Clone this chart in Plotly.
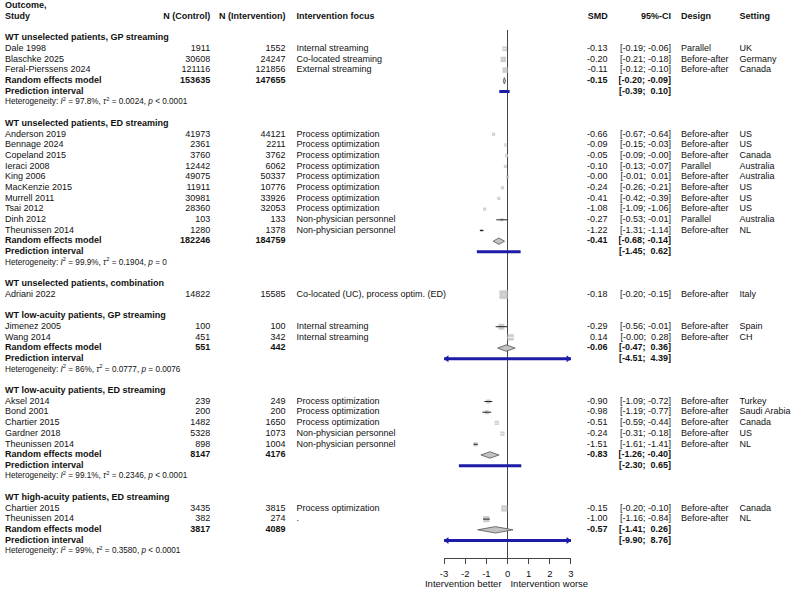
import plotly.graph_objects as go
import numpy as np

# ---------------- data ----------------
group_titles = [
    "WT unselected patients, GP streaming",
    "WT unselected patients, ED streaming",
    "WT unselected patients, combination",
    "WT low-acuity patients, GP streaming",
    "WT low-acuity patients, ED streaming",
    "WT high-acuity patients, ED streaming",
]
study_group = [0, 0, 0, 1, 1, 1, 1, 1, 1, 1, 1, 1, 1, 2, 3, 3, 4, 4, 4, 4, 4, 5, 5]
study_names = [
    "Dale 1998", "Blaschke 2025", "Feral-Pierssens 2024",
    "Anderson 2019", "Bennage 2024", "Copeland 2015", "Ieraci 2008", "King 2006",
    "MacKenzie 2015", "Murrell 2011", "Tsai 2012", "Dinh 2012", "Theunissen 2014",
    "Adriani 2022",
    "Jimenez 2005", "Wang 2014",
    "Aksel 2014", "Bond 2001", "Chartier 2015", "Gardner 2018", "Theunissen 2014",
    "Chartier 2015", "Theunissen 2014",
]
n_control = [1911, 30608, 121116,
             41973, 2361, 3760, 12442, 49075, 11911, 30981, 28360, 103, 1280,
             14822,
             100, 451,
             239, 200, 1482, 5328, 898,
             3435, 382]
n_interv = [1552, 24247, 121856,
            44121, 2211, 3762, 6062, 50337, 10776, 33926, 32053, 133, 1378,
            15585,
            100, 342,
            249, 200, 1650, 1073, 1004,
            3815, 274]
focus = ["Internal streaming", "Co-located streaming", "External streaming",
         "Process optimization", "Process optimization", "Process optimization",
         "Process optimization", "Process optimization", "Process optimization",
         "Process optimization", "Process optimization", "Non-physician personnel",
         "Non-physician personnel",
         "Co-located (UC), process optim. (ED)",
         "Internal streaming", "Internal streaming",
         "Process optimization", "Process optimization", "Process optimization",
         "Non-physician personnel", "Non-physician personnel",
         "Process optimization", "."]
smd = [-0.13, -0.20, -0.11,
       -0.66, -0.09, -0.05, -0.10, -0.0, -0.24, -0.41, -1.08, -0.27, -1.22,
       -0.18,
       -0.29, 0.14,
       -0.90, -0.98, -0.51, -0.24, -1.51,
       -0.15, -1.00]
ci_lo = [-0.19, -0.21, -0.12,
         -0.67, -0.15, -0.09, -0.13, -0.01, -0.26, -0.42, -1.09, -0.53, -1.31,
         -0.20,
         -0.56, -0.0,
         -1.09, -1.19, -0.59, -0.31, -1.61,
         -0.20, -1.16]
ci_hi = [-0.06, -0.18, -0.10,
         -0.64, -0.03, -0.0, -0.07, 0.01, -0.21, -0.39, -1.06, -0.01, -1.14,
         -0.15,
         -0.01, 0.28,
         -0.72, -0.77, -0.44, -0.18, -1.41,
         -0.10, -0.84]
design = ["Parallel", "Before-after", "Before-after",
          "Before-after", "Before-after", "Before-after", "Parallel", "Before-after",
          "Before-after", "Before-after", "Before-after", "Parallel", "Before-after",
          "Before-after",
          "Before-after", "Before-after",
          "Before-after", "Before-after", "Before-after", "Before-after", "Before-after",
          "Before-after", "Before-after"]
setting = ["UK", "Germany", "Canada",
           "US", "US", "Canada", "Australia", "Australia", "US", "US", "US",
           "Australia", "NL",
           "Italy",
           "Spain", "CH",
           "Turkey", "Saudi Arabia", "Canada", "US", "NL",
           "Canada", "NL"]
# estimated random-effects weights (%) within subgroup
weight = [25.6, 36.8, 37.6,
          10.0, 10.0, 10.0, 10.0, 10.0, 10.0, 10.0, 10.0, 9.9, 10.0,
          100.0,
          45.8, 54.2,
          19.7, 19.6, 20.2, 20.2, 20.2,
          50.2, 49.8]

pooled_smd = [-0.15, -0.41, None, -0.06, -0.83, -0.57]
pooled_lo = [-0.20, -0.68, None, -0.47, -1.26, -1.41]
pooled_hi = [-0.09, -0.14, None, 0.36, -0.40, 0.26]
pi_lo = [-0.39, -1.45, None, -4.51, -2.30, -9.90]
pi_hi = [0.10, 0.62, None, 4.39, 0.65, 8.76]
pooled_nc = [153635, 182246, None, 551, 8147, 3817]
pooled_ni = [147655, 184759, None, 442, 4176, 4089]
het_i2 = ["97.8%", "99.9%", None, "86%", "99.1%", "99%"]
het_tau2 = ["0.0024", "0.1904", None, "0.0777", "0.2346", "0.3580"]
het_p = ["< 0.0001", "= 0", None, "= 0.0076", "< 0.0001", "< 0.0001"]

x_ticks = [-3, -2, -1, 0, 1, 2, 3]
label_left = "Intervention better"
label_right = "Intervention worse"

# ---------------- layout constants ----------------
W, H = 794, 589
Y0, DY = 6.0, 10.69          # pixel centre of row 0, row spacing
AX_PX = 558                  # pixel y of the x-axis line
XL_PX, XR_PX = 444, 572      # pixel x of -3 and 3
PX_PER_UNIT = (XR_PX - XL_PX) / (x_ticks[-1] - x_ticks[0])
FONT = "Liberation Sans, Arial, Helvetica, sans-serif"
FS = 9
NB = "\u00a0"


def row_of_px(p):
    return (p - Y0) / DY


def fmt(v):
    return f"{v:.2f}"


def fmt_ci(lo, hi):
    return (f"[{lo:5.2f}; {hi:5.2f}]").replace(" ", NB).replace(";" + NB, "; ")


# ---------------- assemble rows ----------------
texts = {k: ([], []) for k in ["study", "nc", "ni", "focus", "smd", "ci", "design", "setting", "het"]}


def add(col, row, txt, bold=False):
    texts[col][0].append(row)
    texts[col][1].append(f"<b>{txt}</b>" if bold else txt)


study_rows = [0] * len(study_names)
pooled_rows = [None] * len(group_titles)
r = 3
for g, title in enumerate(group_titles):
    add("study", r, title, True)
    r += 1
    for i, sg in enumerate(study_group):
        if sg != g:
            continue
        study_rows[i] = r
        add("study", r, study_names[i])
        add("nc", r, str(n_control[i]))
        add("ni", r, str(n_interv[i]))
        add("focus", r, focus[i])
        add("smd", r, f"{smd[i]:5.2f}".replace(" ", NB))
        add("ci", r, fmt_ci(ci_lo[i], ci_hi[i]))
        add("design", r, design[i])
        add("setting", r, setting[i])
        r += 1
    if pooled_smd[g] is not None:
        pooled_rows[g] = r
        add("study", r, "Random effects model", True)
        add("nc", r, str(pooled_nc[g]), True)
        add("ni", r, str(pooled_ni[g]), True)
        add("smd", r, fmt(pooled_smd[g]), True)
        add("ci", r, fmt_ci(pooled_lo[g], pooled_hi[g]), True)
        r += 1
        add("study", r, "Prediction interval", True)
        add("ci", r, fmt_ci(pi_lo[g], pi_hi[g]), True)
        r += 1
        p_txt = het_p[g].replace("<", "&lt;")
        add("het", r, f"Heterogeneity: <i>I</i><sup>2</sup> = {het_i2[g]}, "
                      f"<i>τ</i><sup>2</sup> = {het_tau2[g]}, <i>p</i> {p_txt}")
        r += 1
    r += 1

fig = go.Figure()

# ---------------- text columns (x2 = pixel axis) ----------------
col_pos = {
    "study": (1, "middle right", FS),
    "het": (1, "middle right", 8.2),
    "nc": (208, "middle left", FS),
    "ni": (284, "middle left", FS),
    "focus": (295, "middle right", FS),
    "smd": (609, "middle left", FS),
    "ci": (673, "middle left", FS),
    "design": (683, "middle right", FS),
    "setting": (742, "middle right", FS),
}
headers = {"nc": "N (Control)", "ni": "N (Intervention)", "focus": "Intervention focus",
           "smd": "SMD", "ci": "95%-CI", "design": "Design", "setting": "Setting"}
add("study", 0, "Outcome,", True)
add("study", 1, "Study", True)
for k, h in headers.items():
    add(k, 1, h, True)

for k, (xp, tp, fs) in col_pos.items():
    rows, tx = texts[k]
    fig.add_trace(go.Scatter(
        x=[xp] * len(rows), y=rows, text=tx, mode="text", textposition=tp,
        textfont=dict(family=FONT, size=fs, color="#111"),
        xaxis="x2", yaxis="y", hoverinfo="skip", showlegend=False, cliponaxis=False))

# bottom labels
lab_row = row_of_px(585)
fig.add_trace(go.Scatter(
    x=[502, 511], y=[lab_row, lab_row], text=[label_left, label_right],
    mode="text", textposition=["middle left", "middle right"],
    textfont=dict(family=FONT, size=9.5, color="#111"),
    xaxis="x2", yaxis="y", hoverinfo="skip", showlegend=False, cliponaxis=False))

# ---------------- forest marks ----------------
sizes = [0.8 * np.sqrt(w) + 0.6 for w in weight]
fig.add_trace(go.Scatter(
    x=smd, y=study_rows, mode="markers",
    marker=dict(symbol="square", size=sizes, color="#B8B8B8", line=dict(width=0)),
    hoverinfo="skip", showlegend=False))

bx, by, wx, wy = [], [], [], []
for i in range(len(smd)):
    ci_px = (ci_hi[i] - ci_lo[i]) * PX_PER_UNIT
    if ci_px > sizes[i]:
        bx += [ci_lo[i], ci_hi[i], None]
        by += [study_rows[i], study_rows[i], None]
    else:
        wx += [ci_lo[i], ci_hi[i], None]
        wy += [study_rows[i], study_rows[i], None]
fig.add_trace(go.Scatter(x=wx, y=wy, mode="lines", line=dict(color="#f4f4f4", width=1),
                         hoverinfo="skip", showlegend=False))
fig.add_trace(go.Scatter(x=bx, y=by, mode="lines", line=dict(color="#222", width=1),
                         hoverinfo="skip", showlegend=False))

# diamonds
dh = 0.3
dx, dy = [], []
for g in range(len(group_titles)):
    if pooled_smd[g] is None:
        continue
    rr = pooled_rows[g]
    dx += [pooled_lo[g], pooled_smd[g], pooled_hi[g], pooled_smd[g], pooled_lo[g], None]
    dy += [rr, rr - dh, rr, rr + dh, rr, None]
fig.add_trace(go.Scatter(x=dx, y=dy, mode="lines", fill="toself", fillcolor="#C2C2C2",
                         line=dict(color="#555", width=0.8), hoverinfo="skip", showlegend=False))

# prediction intervals
lim_lo, lim_hi = x_ticks[0], x_ticks[-1]
px_, py_ = [], []
al_x, al_y, ar_x, ar_y = [], [], [], []
tri_off = 2.9 / PX_PER_UNIT
for g in range(len(group_titles)):
    if pi_lo[g] is None:
        continue
    rr = pooled_rows[g] + 1
    px_ += [max(pi_lo[g], lim_lo), min(pi_hi[g], lim_hi), None]
    py_ += [rr, rr, None]
    if pi_lo[g] < lim_lo:
        al_x.append(lim_lo + tri_off)
        al_y.append(rr)
    if pi_hi[g] > lim_hi:
        ar_x.append(lim_hi - tri_off)
        ar_y.append(rr)
BLUE = "#1c1ca8"
fig.add_trace(go.Scatter(x=px_, y=py_, mode="lines", line=dict(color=BLUE, width=3),
                         hoverinfo="skip", showlegend=False))
fig.add_trace(go.Scatter(x=al_x, y=al_y, mode="markers",
                         marker=dict(symbol="triangle-left", size=6, color=BLUE, line=dict(width=0)),
                         hoverinfo="skip", showlegend=False, cliponaxis=False))
fig.add_trace(go.Scatter(x=ar_x, y=ar_y, mode="markers",
                         marker=dict(symbol="triangle-right", size=6, color=BLUE, line=dict(width=0)),
                         hoverinfo="skip", showlegend=False, cliponaxis=False))

# reference line at 0
fig.add_shape(type="line", xref="x", yref="y", x0=0, x1=0,
              y0=row_of_px(30), y1=row_of_px(AX_PX), line=dict(color="#444", width=1), layer="below")

fig.update_layout(
    width=W, height=H, margin=dict(l=0, r=0, t=0, b=0),
    paper_bgcolor="white", plot_bgcolor="rgba(0,0,0,0)",
    xaxis=dict(domain=[XL_PX / W, XR_PX / W], range=[lim_lo, lim_hi], anchor="free",
               position=(H - AX_PX) / H, showline=True, linecolor="#444", linewidth=1,
               ticks="outside", ticklen=5, tickcolor="#444", tickwidth=1,
               tickvals=x_ticks, ticktext=[str(t) for t in x_ticks],
               ticklabelstandoff=2,
               tickfont=dict(family=FONT, size=9.5, color="#111"),
               showgrid=False, zeroline=False, fixedrange=True),
    xaxis2=dict(domain=[0, 1], range=[0, W], anchor="y", visible=False, fixedrange=True),
    yaxis=dict(domain=[0, 1], range=[row_of_px(H), row_of_px(0)], visible=False,
               anchor="x", fixedrange=True),
)

fig.write_html("out.html")
